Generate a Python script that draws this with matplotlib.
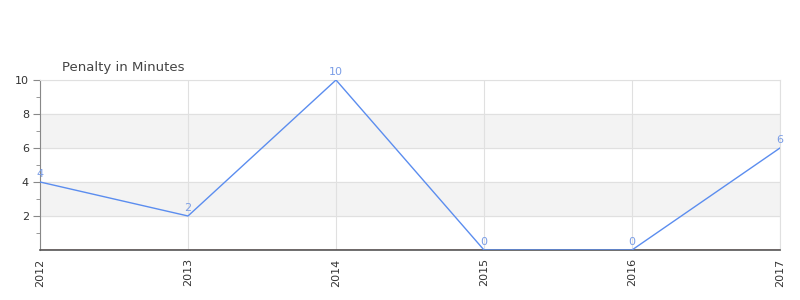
import matplotlib.pyplot as plt
import numpy as np

years = ['2012', '2013', '2014', '2015', '2016', '2017']
penalty = [4, 2, 10, 0, 0, 6]

fig = plt.figure(figsize=(8, 3), dpi=100)
ax = fig.add_axes([0.05, 0.1667, 0.925, 0.5667])

x = np.arange(len(years))

# alternating bands
for lo, hi in [(2, 4), (6, 8)]:
    ax.axhspan(lo, hi, color='#f3f3f3', zorder=0)

ax.plot(x, penalty, color='#5b8def', linewidth=1, zorder=3)
ax.axhline(0, color='#cc0000', linewidth=1, zorder=2)

for xi, v in zip(x, penalty):
    ax.text(xi, v + 0.15, str(v), color='#7a9de6', fontsize=8,
            ha='center', va='bottom', zorder=4)

ax.set_xlim(0, len(years) - 1)
ax.set_ylim(0, 10)
ax.set_xticks(x)
ax.set_xticklabels(years, rotation=90, fontsize=8, color='#333333')
ax.set_yticks([2, 4, 6, 8, 10])
ax.set_yticklabels(['2', '4', '6', '8', '10'], fontsize=8, color='#333333')
ax.set_yticks([1, 3, 5, 7, 9], minor=True)

ax.grid(True, color='#e0e0e0', linewidth=0.8, zorder=1)
ax.set_axisbelow(True)
ax.tick_params(axis='x', length=0, pad=6)
ax.tick_params(axis='y', which='major', length=5, color='#888888', pad=3)
ax.tick_params(axis='y', which='minor', length=3, color='#888888')

for side in ['top', 'right']:
    ax.spines[side].set_color('#e0e0e0')
ax.spines['left'].set_color('#888888')
ax.spines['bottom'].set_color('#555555')
ax.spines['bottom'].set_linewidth(1.2)

fig.text(62 / 800, 1 - 67 / 300, 'Penalty in Minutes', fontsize=9.5,
         color='#444444', ha='left', va='center')

fig.savefig('out.png', dpi=100)
